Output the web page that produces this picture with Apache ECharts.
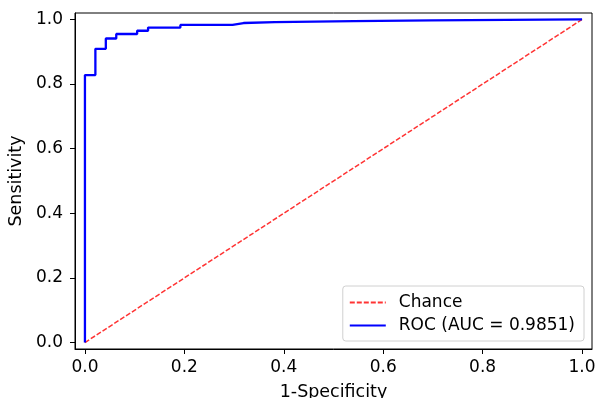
<!DOCTYPE html>
<html>
<head>
<meta charset="utf-8">
<script src="https://cdn.jsdelivr.net/npm/echarts@6/dist/echarts.min.js"></script>
<style>
  html, body { margin: 0; padding: 0; background: #fff; }
  #chart { width: 597px; height: 398px; }
</style>
</head>
<body>
<div id="chart"></div>
<script>
// ROC curve points (false positive rate, true positive rate)
const fpr = [0, 0, 0.021, 0.021, 0.042, 0.042, 0.063, 0.063, 0.105, 0.105, 0.127, 0.127,
  0.192, 0.192, 0.297, 0.297, 0.319, 0.319, 0.382, 0.382, 0.541, 0.541, 0.697, 0.697, 1.0];
const tpr = [0, 0.828, 0.828, 0.909, 0.909, 0.941, 0.941, 0.955, 0.955, 0.965, 0.965, 0.975,
  0.975, 0.983, 0.983, 0.989, 0.989, 0.992, 0.992, 0.995, 0.995, 0.997, 0.997, 1.0, 1.0];
const chanceX = [0, 1];
const chanceY = [0, 1];
const tickValues = [0, 0.2, 0.4, 0.6, 0.8, 1.0];
const rocName = 'ROC (AUC = 0.9851)';
const chanceName = 'Chance';

const font = 'DejaVu Sans';
const fontSize = 17;
const chart = echarts.init(document.getElementById('chart'));

const axisCommon = {
    type: 'value',
    min: -0.02,
    max: 1.02,
    splitLine: { show: false },
    axisLine: { show: true, onZero: false, lineStyle: { color: '#000', width: 1 } },
    axisTick: {
        show: true, inside: false, length: 5,
        customValues: tickValues,
        lineStyle: { color: '#000', width: 1 }
    },
    axisLabel: {
        customValues: tickValues,
        formatter: v => v.toFixed(1),
        color: '#000', fontFamily: font, fontSize: fontSize
    },
    nameTextStyle: { color: '#000', fontFamily: font, fontSize: 17.5 },
    nameLocation: 'middle'
};

const option = {
    animation: false,
    backgroundColor: '#fff',
    grid: {
        left: 75, right: 5, top: 13, bottom: 49,
        outerBoundsMode: 'none',
        containLabel: false,
        show: true, borderColor: '#000', borderWidth: 1, backgroundColor: 'transparent'
    },
    xAxis: Object.assign({}, axisCommon, {
        name: '1-Specificity',
        nameGap: 34,
        axisLabel: Object.assign({}, axisCommon.axisLabel, { margin: 10 })
    }),
    yAxis: Object.assign({}, axisCommon, {
        name: 'Sensitivity',
        nameGap: 46,
        axisLabel: Object.assign({}, axisCommon.axisLabel, { margin: 12 })
    }),
    legend: {
        orient: 'vertical',
        right: 13,
        bottom: 57,
        align: 'left',
        padding: [8, 9, 7, 6],
        itemGap: 6,
        itemWidth: 36,
        itemHeight: 10,
        borderColor: '#d0d0d0',
        borderWidth: 1,
        borderRadius: 3,
        backgroundColor: 'rgba(255,255,255,0.8)',
        itemStyle: { opacity: 0 },
        textStyle: { color: '#000', fontFamily: font, fontSize: fontSize, padding: [0, 0, 0, 8] },
        data: [chanceName, rocName]
    },
    series: [
        {
            name: chanceName,
            type: 'line',
            data: chanceX.map((x, i) => [x, chanceY[i]]),
            symbol: 'none',
            lineStyle: { color: 'rgba(255,0,0,0.8)', width: 1.5, type: [5, 2] },
            itemStyle: { color: 'rgba(255,0,0,0.8)' },
            z: 2
        },
        {
            name: rocName,
            type: 'line',
            data: fpr.map((x, i) => [x, tpr[i]]),
            symbol: 'none',
            lineStyle: { color: '#0000ff', width: 2.3 },
            itemStyle: { color: '#0000ff' },
            z: 3
        }
    ]
};
chart.setOption(option);
</script>
</body>
</html>
